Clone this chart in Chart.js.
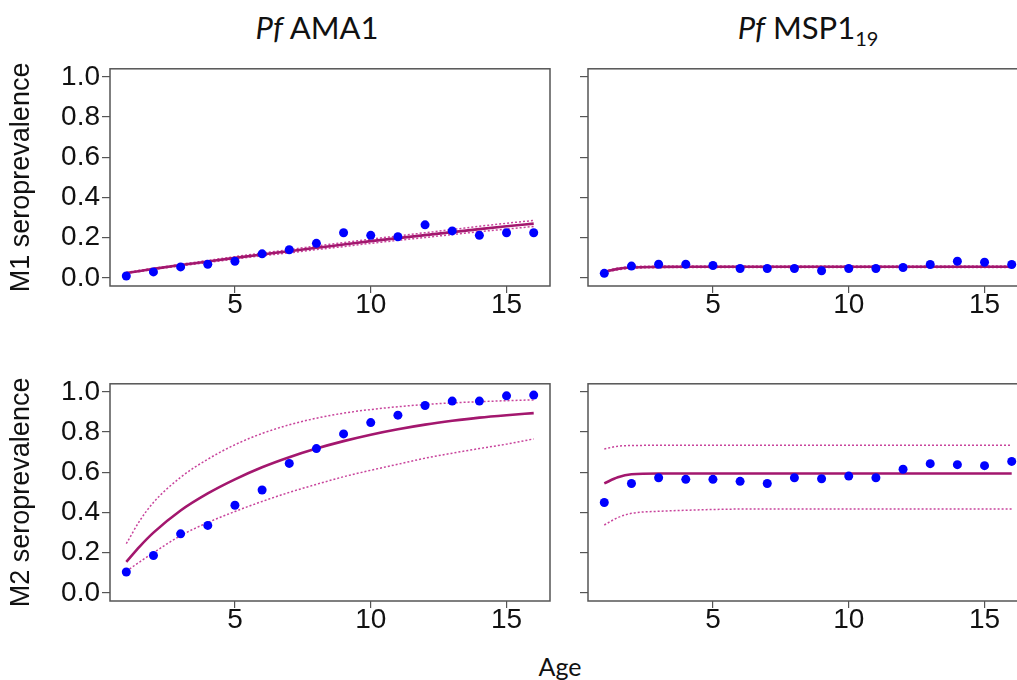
<!DOCTYPE html>
<html>
<head>
<meta charset="utf-8">
<script src="https://cdn.jsdelivr.net/npm/chart.js@4.4.1/dist/chart.umd.min.js"></script>
<style>
  html, body { margin: 0; padding: 0; background: #fff; }
  body { width: 1017px; height: 680px; position: relative; overflow: hidden; }
  .panel { position: absolute; }
  .hdr { position: absolute; font-family: Lato, "Open Sans", sans-serif; font-size: 31px; color: #111; white-space: nowrap; transform: translateX(-50%); line-height: 1; }
  .hdr sub { font-size: 20px; vertical-align: -7px; line-height: 0; }
  .xlab { position: absolute; font-family: Lato, "Open Sans", sans-serif; font-size: 25px; color: #111; transform: translateX(-50%); line-height: 1; }
</style>
</head>
<body>
<div class="hdr" style="left:317px; top:12px;"><i>Pf</i> AMA1</div>
<div class="hdr" style="left:808px; top:12px;"><i>Pf</i> MSP1<sub>19</sub></div>
<div class="xlab" style="left:560px; top:654px;">Age</div>

<div class="panel" style="left:0px; top:50px; width:560px; height:270px;"><canvas id="c11"></canvas></div>
<div class="panel" style="left:570px; top:50px; width:470px; height:270px;"><canvas id="c12"></canvas></div>
<div class="panel" style="left:0px; top:365px; width:560px; height:270px;"><canvas id="c21"></canvas></div>
<div class="panel" style="left:570px; top:365px; width:470px; height:270px;"><canvas id="c22"></canvas></div>

<script>
// Age groups of the observed seroprevalence points
const ages = [1, 2, 3, 4, 5, 6, 7, 8, 9, 10, 11, 12, 13, 14, 15, 16];
// Ages at which the fitted curves and their 95% bounds are drawn
const fitAges = [1, 1.5, 2, 3, 4, 5, 6, 7, 8, 9, 10, 11, 12, 13, 14, 15, 16];
const xTickValues = [5, 10, 15];
const yTickValues = [0, 0.2, 0.4, 0.6, 0.8, 1.0];

// Pf AMA1, M1
const ama1M1Obs   = [0.010, 0.030, 0.055, 0.068, 0.083, 0.120, 0.140, 0.172, 0.225, 0.212, 0.205, 0.264, 0.234, 0.212, 0.225, 0.225];
const ama1M1Fit   = [0.025, 0.035, 0.045, 0.064, 0.082, 0.100, 0.117, 0.133, 0.150, 0.166, 0.183, 0.198, 0.213, 0.228, 0.243, 0.257, 0.270];
const ama1M1Upper = [0.027, 0.038, 0.048, 0.068, 0.087, 0.106, 0.124, 0.141, 0.159, 0.176, 0.193, 0.209, 0.225, 0.241, 0.257, 0.272, 0.286];
const ama1M1Lower = [0.023, 0.032, 0.042, 0.060, 0.077, 0.094, 0.110, 0.125, 0.141, 0.156, 0.172, 0.187, 0.201, 0.216, 0.230, 0.243, 0.256];

// Pf AMA1, M2
const ama1M2Obs   = [0.104, 0.186, 0.294, 0.336, 0.436, 0.512, 0.644, 0.718, 0.791, 0.847, 0.884, 0.932, 0.954, 0.954, 0.980, 0.984];
const ama1M2Fit   = [0.155, 0.232, 0.300, 0.410, 0.495, 0.565, 0.625, 0.675, 0.718, 0.755, 0.787, 0.814, 0.837, 0.856, 0.872, 0.884, 0.894];
const ama1M2Upper = [0.245, 0.360, 0.450, 0.575, 0.665, 0.737, 0.793, 0.836, 0.869, 0.894, 0.912, 0.926, 0.937, 0.945, 0.951, 0.956, 0.960];
const ama1M2Lower = [0.108, 0.155, 0.200, 0.285, 0.350, 0.405, 0.455, 0.500, 0.540, 0.578, 0.610, 0.640, 0.670, 0.695, 0.718, 0.740, 0.766];

// Pf MSP1-19, M1
const msp1M1Obs   = [0.023, 0.059, 0.068, 0.068, 0.062, 0.047, 0.047, 0.047, 0.036, 0.047, 0.047, 0.052, 0.067, 0.083, 0.078, 0.067];
const msp1M1Fit   = [0.030, 0.045, 0.052, 0.055, 0.056, 0.056, 0.056, 0.056, 0.056, 0.056, 0.056, 0.056, 0.056, 0.056, 0.056, 0.056, 0.056];
const msp1M1Upper = [0.033, 0.049, 0.056, 0.059, 0.060, 0.060, 0.060, 0.060, 0.060, 0.060, 0.060, 0.060, 0.060, 0.060, 0.060, 0.060, 0.060];
const msp1M1Lower = [0.027, 0.041, 0.048, 0.051, 0.052, 0.052, 0.052, 0.052, 0.052, 0.052, 0.052, 0.052, 0.052, 0.052, 0.052, 0.052, 0.052];

// Pf MSP1-19, M2
const msp1M2Obs   = [0.450, 0.544, 0.573, 0.565, 0.565, 0.555, 0.544, 0.573, 0.568, 0.581, 0.573, 0.615, 0.643, 0.638, 0.633, 0.654];
const msp1M2Fit   = [0.545, 0.575, 0.590, 0.594, 0.594, 0.594, 0.594, 0.594, 0.594, 0.594, 0.594, 0.594, 0.594, 0.594, 0.594, 0.594, 0.594];
const msp1M2Upper = [0.716, 0.730, 0.733, 0.734, 0.734, 0.734, 0.734, 0.734, 0.734, 0.734, 0.734, 0.734, 0.734, 0.734, 0.734, 0.734, 0.734];
const msp1M2Lower = [0.338, 0.375, 0.396, 0.406, 0.411, 0.415, 0.417, 0.417, 0.417, 0.417, 0.417, 0.417, 0.417, 0.417, 0.417, 0.417, 0.417];

const POINT_COLOR = '#0000ff';
const FIT_COLOR = '#a3176e';
const BOUND_COLOR = '#c8449c';
const AXIS_COLOR = '#555555';
const TICK_FONT = { family: '"Liberation Sans", Arial, sans-serif', size: 28 };

const toXY = (xs, ys) => xs.map((x, i) => ({ x: x, y: ys[i] }));

// Closed box around the plotting region
const framePlugin = {
  id: 'frame',
  afterDraw(chart) {
    const a = chart.chartArea, ctx = chart.ctx;
    ctx.save();
    ctx.strokeStyle = AXIS_COLOR;
    ctx.lineWidth = 1.5;
    ctx.strokeRect(a.left, a.top, a.right - a.left, a.bottom - a.top);
    ctx.restore();
  }
};

function makePanel(id, opts) {
  const lineDs = (ys, color, width, dash) => ({
    type: 'line',
    data: toXY(fitAges, ys),
    borderColor: color,
    borderWidth: width,
    borderDash: dash,
    pointRadius: 0,
    fill: false,
    cubicInterpolationMode: 'monotone',
    order: 2
  });
  new Chart(document.getElementById(id), {
    type: 'scatter',
    data: {
      datasets: [
        { data: toXY(ages, opts.obs), backgroundColor: POINT_COLOR, borderWidth: 0, pointRadius: 4.5, order: 1 },
        lineDs(opts.fit, FIT_COLOR, 2.6, []),
        lineDs(opts.upper, BOUND_COLOR, 1.5, [2, 2]),
        lineDs(opts.lower, BOUND_COLOR, 1.5, [2, 2])
      ]
    },
    options: {
      responsive: true,
      maintainAspectRatio: false,
      animation: false,
      events: [],
      layout: { padding: { top: 14, right: opts.padRight, left: 0, bottom: 0 } },
      plugins: { legend: { display: false }, tooltip: { enabled: false } },
      scales: {
        x: {
          type: 'linear',
          min: 0.4,
          max: 16.6,
          afterBuildTicks: s => { s.ticks = xTickValues.map(v => ({ value: v })); },
          afterFit: s => { s.height = 34; },
          border: { display: false },
          grid: { drawOnChartArea: false, drawTicks: true, tickLength: 7, color: AXIS_COLOR, lineWidth: 1.2 },
          ticks: { color: '#111', font: TICK_FONT, padding: -5, maxRotation: 0, autoSkip: false, callback: v => String(v) }
        },
        y: {
          type: 'linear',
          min: -0.04,
          max: 1.04,
          afterBuildTicks: s => { s.ticks = yTickValues.map(v => ({ value: v })); },
          afterFit: s => { s.width = opts.yWidth; },
          border: { display: false },
          grid: { drawOnChartArea: false, drawTicks: true, tickLength: 8, color: AXIS_COLOR, lineWidth: 1.2 },
          ticks: {
            color: '#111', font: TICK_FONT, padding: 2,
            callback: v => opts.yLabels ? v.toFixed(1) : ''
          },
          title: {
            display: !!opts.yTitle,
            text: opts.yTitle || '',
            color: '#111',
            font: { family: '"Liberation Sans", Arial, sans-serif', size: 27 },
            padding: { top: 5, bottom: 0 }
          }
        }
      }
    },
    plugins: [framePlugin]
  });
}

makePanel('c11', { obs: ama1M1Obs, fit: ama1M1Fit, upper: ama1M1Upper, lower: ama1M1Lower, yWidth: 110, padRight: 10, yLabels: true, yTitle: 'M1 seroprevalence' });
makePanel('c21', { obs: ama1M2Obs, fit: ama1M2Fit, upper: ama1M2Upper, lower: ama1M2Lower, yWidth: 110, padRight: 10, yLabels: true, yTitle: 'M2 seroprevalence' });
makePanel('c12', { obs: msp1M1Obs, fit: msp1M1Fit, upper: msp1M1Upper, lower: msp1M1Lower, yWidth: 18, padRight: 12, yLabels: false });
makePanel('c22', { obs: msp1M2Obs, fit: msp1M2Fit, upper: msp1M2Upper, lower: msp1M2Lower, yWidth: 18, padRight: 12, yLabels: false });
</script>
</body>
</html>
